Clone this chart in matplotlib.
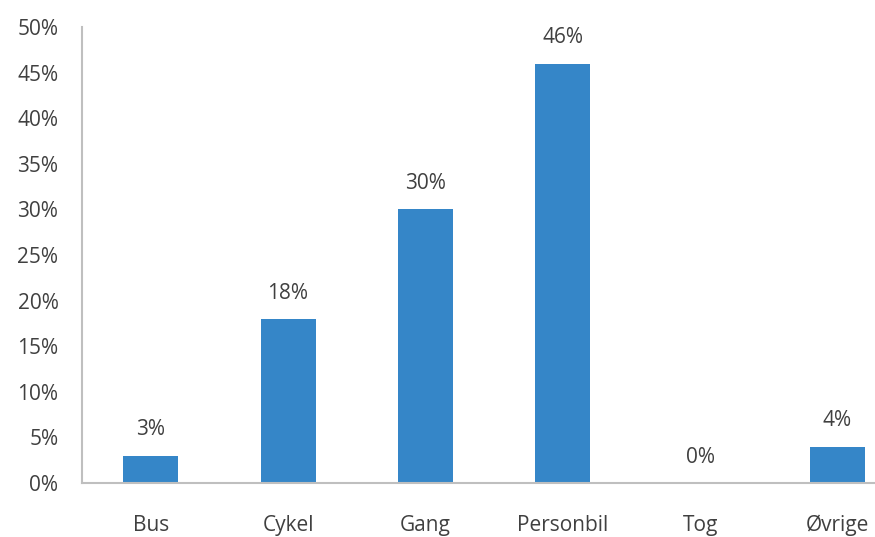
import matplotlib.pyplot as plt
import numpy as np

plt.rcParams['font.family'] = ['Open Sans', 'DejaVu Sans']

# data
categories = ['Bus', 'Cykel', 'Gang', 'Personbil', 'Tog', 'Øvrige']
shares = [3, 18, 30, 46, 0, 4]
yticks = list(range(0, 51, 5))

bar_color = '#3586C8'
text_color = '#404040'
axis_color = '#BFBFBF'

fig = plt.figure(figsize=(8.75, 5.37), dpi=100)
ax = fig.add_axes([0.0937, 0.1006, 0.942, 0.849])

x = np.arange(len(categories))
ax.bar(x, shares, width=0.4, color=bar_color)

for xi, v in zip(x, shares):
    ax.annotate(f'{v}%', (xi, v), xytext=(0, 11), textcoords='offset points',
                ha='center', va='bottom', fontsize=15, color=text_color)

ax.set_xlim(-0.5, len(categories) - 0.5)
ax.set_ylim(0, 50)
ax.set_yticks(yticks)
ax.set_yticklabels([f'{t}%' for t in yticks])
ax.set_xticks(x)
ax.set_xticklabels(categories)

ax.tick_params(axis='both', length=0, labelsize=15, labelcolor=text_color)
ax.tick_params(axis='x', pad=23)
ax.tick_params(axis='y', pad=17)

for s in ['top', 'right']:
    ax.spines[s].set_visible(False)
for s in ['left', 'bottom']:
    ax.spines[s].set_color(axis_color)
    ax.spines[s].set_linewidth(1.5)

fig.savefig('out.png', dpi=100)
